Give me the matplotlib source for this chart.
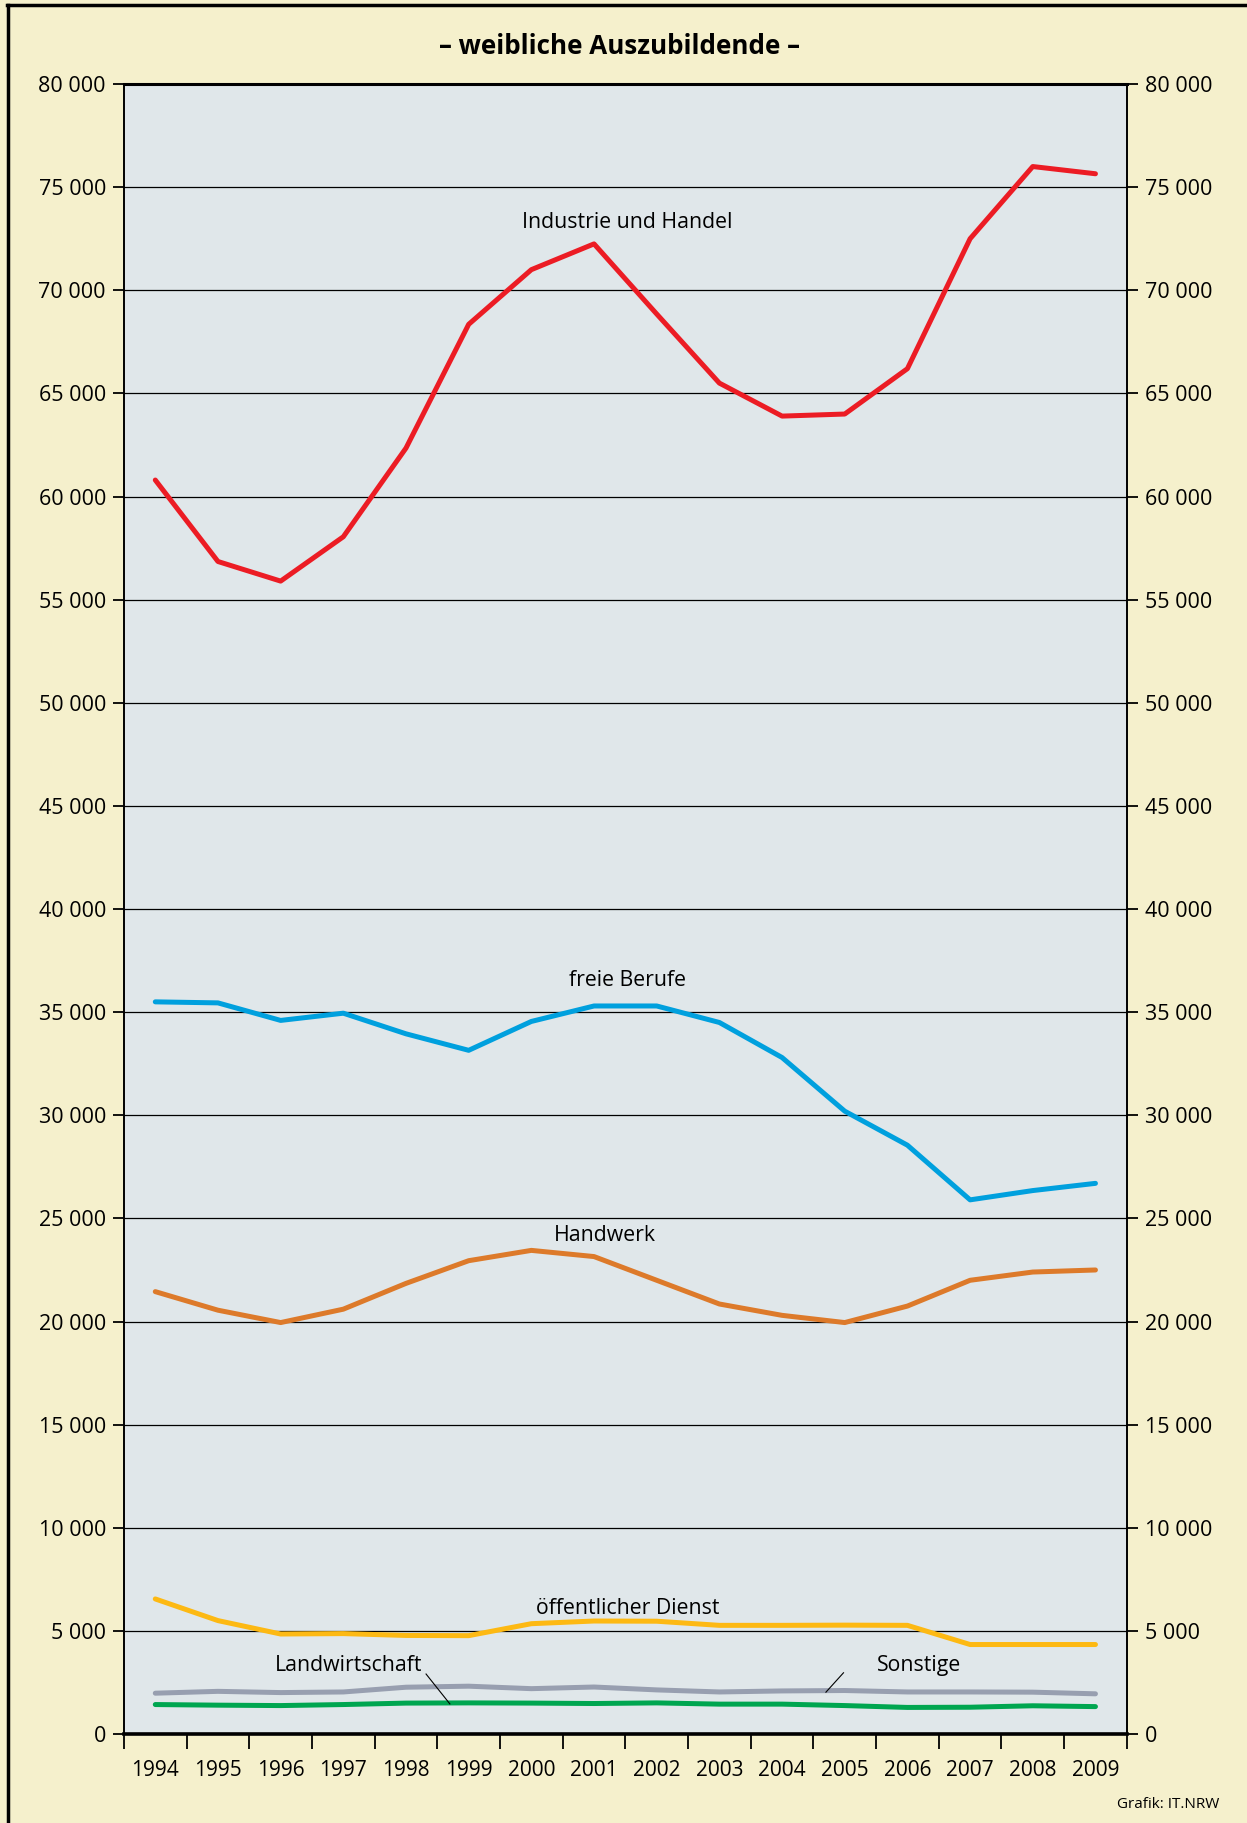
import matplotlib
matplotlib.use("Agg")
import matplotlib.pyplot as plt
from matplotlib.ticker import FuncFormatter, FixedLocator, NullFormatter
from matplotlib.lines import Line2D

plt.rcParams['font.family'] = ['Open Sans', 'DejaVu Sans']

# data
years = list(range(1994, 2010))
industrie = [60800, 56850, 55900, 58050, 62350, 68350, 71000, 72250,
             68850, 65500, 63900, 64000, 66200, 72500, 76000, 75650]
freie = [35500, 35450, 34600, 34950, 33950, 33150, 34550, 35300,
         35300, 34500, 32800, 30200, 28550, 25900, 26350, 26700]
handwerk = [21450, 20550, 19950, 20600, 21850, 22950, 23450, 23150,
            22000, 20850, 20300, 19950, 20750, 22000, 22400, 22500]
oeffentlich = [6550, 5500, 4850, 4870, 4780, 4770, 5350, 5480,
               5470, 5270, 5270, 5280, 5270, 4340, 4340, 4340]
sonstige = [1980, 2070, 2010, 2040, 2270, 2320, 2200, 2280,
            2140, 2040, 2090, 2110, 2040, 2040, 2030, 1950]
landwirtschaft = [1430, 1400, 1380, 1430, 1500, 1510, 1500, 1480,
                  1510, 1450, 1450, 1380, 1290, 1300, 1370, 1330]

series = [
    (industrie, '#EC1C24'),
    (freie, '#00A0DE'),
    (handwerk, '#DD7A2A'),
    (oeffentlich, '#FDB913'),
    (sonstige, '#989FB0'),
    (landwirtschaft, '#00A650'),
]

bg = '#F5F0CC'
plot_bg = '#E0E7EA'

fig = plt.figure(figsize=(12.47, 18.23), dpi=100, facecolor=bg)
ax = fig.add_axes([0.0994, 0.0488, 0.8042, 0.9051])
ax.set_facecolor(plot_bg)

x = list(range(len(years)))
for vals, col in series:
    ax.plot(x, vals, color=col, lw=3.6, solid_capstyle='round',
            solid_joinstyle='round', zorder=3)

ax.set_xlim(-0.5, len(years) - 0.5)
ax.set_ylim(0, 80000)

# grid
for v in range(5000, 80000, 5000):
    ax.axhline(v, color='black', lw=0.9, zorder=1)

# y axis both sides
fmt = FuncFormatter(lambda v, p: f"{int(v):,}".replace(",", " "))
ax.set_yticks(range(0, 80001, 5000))
ax.yaxis.set_major_formatter(fmt)
ax.tick_params(axis='y', which='major', direction='out', length=8, width=1.3,
               labelsize=15.5, left=True, right=True, labelleft=True,
               labelright=True, pad=5)

# x axis: ticks at boundaries, labels at centres
ax.xaxis.set_major_locator(FixedLocator([i - 0.5 for i in range(len(years) + 1)]))
ax.xaxis.set_major_formatter(NullFormatter())
ax.xaxis.set_minor_locator(FixedLocator(x))
ax.set_xticklabels([str(y) for y in years], minor=True)
ax.tick_params(axis='x', which='major', direction='out', length=11, width=1.3)
ax.tick_params(axis='x', which='minor', length=0, labelsize=15, pad=19)

for side in ['left', 'right']:
    ax.spines[side].set_linewidth(1.4)
ax.spines['top'].set_linewidth(2.2)
ax.spines['bottom'].set_linewidth(2.6)

# series labels
lab = dict(fontsize=15.3, ha='center', va='center', zorder=4)
ax.text(7.53, 73300, 'Industrie und Handel', **lab)
ax.text(7.53, 36550, 'freie Berufe', **lab)
ax.text(7.18, 24150, 'Handwerk', **lab)
ax.text(7.53, 6080, 'öffentlicher Dienst', **lab)
ax.text(3.08, 3340, 'Landwirtschaft', **lab)
ax.text(12.18, 3340, 'Sonstige', **lab)
ax.plot([4.32, 4.70], [2910, 1460], color='black', lw=0.8, zorder=4)
ax.plot([10.98, 10.70], [2970, 2030], color='black', lw=0.8, zorder=4)

fig.text(0.497, 0.9745, '– weibliche Auszubildende –', ha='center', va='center',
         fontsize=18.7, fontweight='bold')
fig.text(0.978, 0.006, 'Grafik: IT.NRW', ha='right', va='bottom', fontsize=11)

# outer frame lines (top and left)
fig.add_artist(Line2D([0.006, 1.0], [0.9975, 0.9975], transform=fig.transFigure,
                      color='black', lw=2.5))
fig.add_artist(Line2D([0.0065, 0.0065], [0.0, 0.9975], transform=fig.transFigure,
                      color='black', lw=2.5))

fig.savefig('out.png', dpi=100, facecolor=bg)
